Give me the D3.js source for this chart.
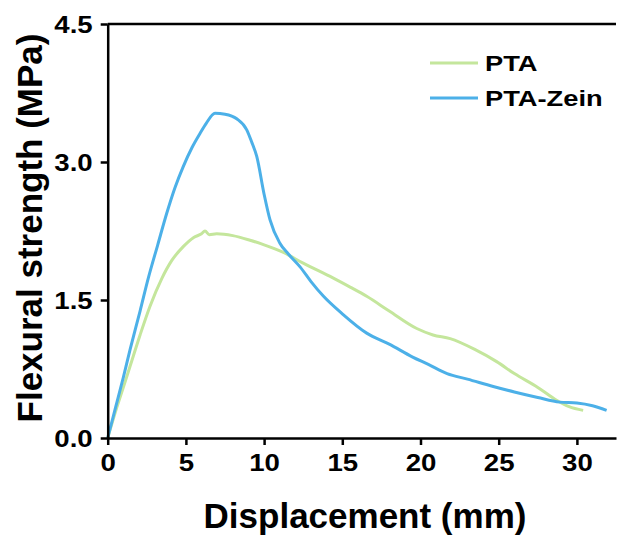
<!DOCTYPE html>
<html><head><meta charset="utf-8">
<script src="https://cdn.jsdelivr.net/npm/d3@7"></script>
<style>body{margin:0;background:#fff;} text{font-family:"Liberation Sans",Arial,sans-serif;font-weight:bold;}</style>
</head><body>
<svg id="c" width="618" height="536"></svg>
<script>
const seriesNames = ["PTA", "PTA-Zein"];
const seriesColors = ["#c4e69c", "#4cb0e8"];
const ptaX = [0, 0.58, 1.0, 1.43, 2.07, 2.7, 3.45, 4.1, 4.83, 5.5, 6.0, 6.22, 6.5, 6.97, 8.0, 9.1, 10.0, 11.2, 12.5, 14.4, 15.5, 16.56, 18.0, 19.76, 20.8, 21.9, 23.5, 24.87, 26.0, 27.5, 28.7, 29.5, 30.4];
const ptaY = [0, 0.33, 0.55, 0.78, 1.12, 1.43, 1.73, 1.93, 2.08, 2.18, 2.22, 2.25, 2.21, 2.22, 2.20, 2.15, 2.10, 2.02, 1.90, 1.74, 1.64, 1.54, 1.38, 1.19, 1.12, 1.08, 0.96, 0.83, 0.70, 0.55, 0.41, 0.34, 0.30];
const zeinX = [0, 0.5, 1.0, 1.43, 2.07, 2.6, 3.2, 3.77, 4.3, 4.83, 5.4, 5.9, 6.3, 6.86, 7.5, 8.25, 8.89, 9.2, 9.53, 10.0, 10.38, 11.0, 11.55, 12.3, 13.0, 13.8, 15.0, 16.56, 18.0, 19.5, 20.5, 21.7, 23.0, 24.65, 26.0, 27.5, 28.9, 30.0, 31.0, 31.9];
const zeinY = [0, 0.33, 0.66, 0.96, 1.38, 1.74, 2.10, 2.44, 2.72, 2.95, 3.16, 3.31, 3.42, 3.53, 3.52, 3.47, 3.35, 3.22, 3.06, 2.65, 2.37, 2.12, 2.0, 1.86, 1.70, 1.54, 1.35, 1.14, 1.02, 0.88, 0.80, 0.70, 0.64, 0.56, 0.50, 0.44, 0.39, 0.38, 0.35, 0.30];
const xTicks = [0, 5, 10, 15, 20, 25, 30];
const yTicks = [0, 1.5, 3.0, 4.5];
const xTitle = "Displacement (mm)";
const yTitle = "Flexural strength (MPa)";

const svg = d3.select("#c");
const x = d3.scaleLinear().domain([0, 32.5]).range([107.7, 616]);
const y = d3.scaleLinear().domain([0, 4.5]).range([438, 24]);

function stretch(sel, k) {
  sel.each(function() {
    const w = this.getComputedTextLength();
    d3.select(this).attr("textLength", w * k).attr("lengthAdjust", "spacingAndGlyphs");
  });
}

const series = [
  {name: seriesNames[0], color: seriesColors[0], pts: ptaX.map((v,i)=>[v, ptaY[i]])},
  {name: seriesNames[1], color: seriesColors[1], pts: zeinX.map((v,i)=>[v, zeinY[i]])}
];
const line = d3.line().x(d=>x(d[0])).y(d=>y(d[1])).curve(d3.curveMonotoneX);
series.forEach(s => {
  svg.append("path").attr("d", line(s.pts)).attr("fill","none")
    .attr("stroke", s.color).attr("stroke-width", 3).attr("stroke-linejoin","round");
});

const xAxis = svg.append("g").attr("transform", `translate(0,${y(0)})`)
  .call(d3.axisBottom(x).tickValues(xTicks).tickFormat(d3.format("d")).tickSize(7).tickSizeOuter(0));
const yAxis = svg.append("g").attr("transform", `translate(${x(0)},0)`)
  .call(d3.axisLeft(y).tickValues(yTicks).tickFormat(d3.format(".1f")).tickSize(7).tickSizeOuter(0));
[xAxis, yAxis].forEach(g => {
  g.select(".domain").attr("stroke","#000").attr("stroke-width",2.5);
  g.selectAll(".tick line").attr("stroke","#000").attr("stroke-width",2.5);
  g.selectAll(".tick text").attr("fill","#000").style("font-size","23px");
});
xAxis.selectAll(".tick text").attr("dy", "0.71em").attr("y", 17);
yAxis.selectAll(".tick text").attr("x", -15).attr("dy","0.35em");
stretch(xAxis.selectAll(".tick text"), 1.2);
stretch(yAxis.selectAll(".tick text"), 1.2);
// top border
svg.append("line").attr("x1", x(0)).attr("x2", x(32.5)).attr("y1", y(4.5)).attr("y2", y(4.5))
  .attr("stroke","#000").attr("stroke-width",2.5);

svg.append("text").attr("x", 365).attr("y", 528).attr("text-anchor","middle")
  .style("font-size","35px").attr("fill","#000").text(xTitle);
svg.append("text").attr("transform","translate(42,228) rotate(-90)").attr("text-anchor","middle")
  .style("font-size","35px").attr("fill","#000").text(yTitle);

const leg = svg.append("g");
series.forEach((s,i) => {
  const ly = 63 + i*35;
  leg.append("line").attr("x1",430).attr("x2",478).attr("y1",ly).attr("y2",ly)
    .attr("stroke", s.color).attr("stroke-width",3);
  const t = leg.append("text").attr("x",485).attr("y",ly+8).style("font-size","22px").attr("fill","#000").text(s.name);
  stretch(t, 1.24);
});
</script>
</body></html>
